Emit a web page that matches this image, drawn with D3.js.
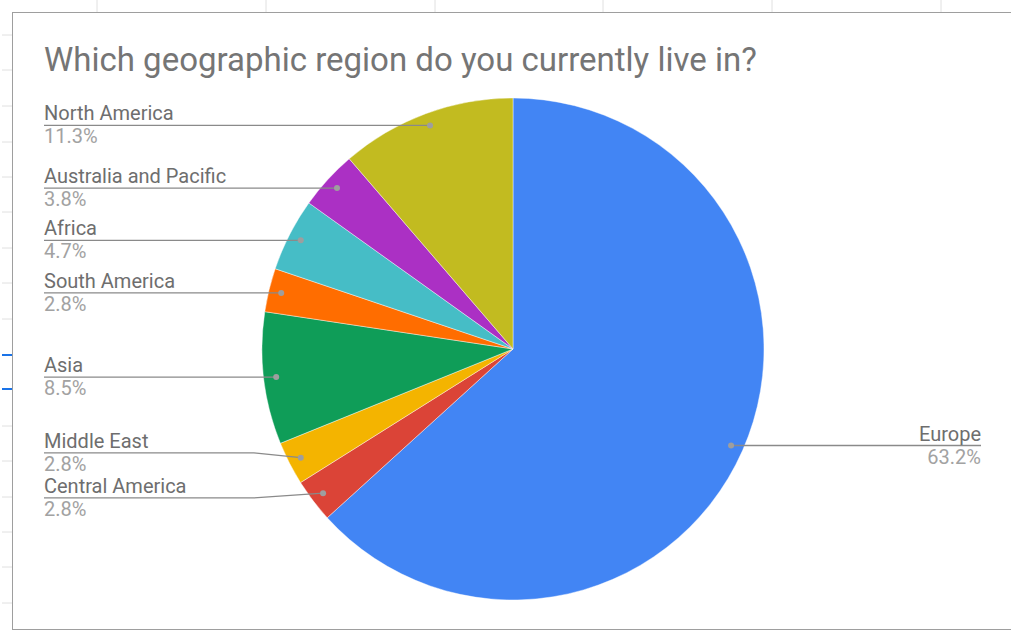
<!DOCTYPE html>
<html>
<head>
<meta charset="utf-8">
<script src="https://cdn.jsdelivr.net/npm/d3@7"></script>
<style>
  html, body { margin: 0; padding: 0; background: #fff; }
  svg { display: block; font-family: Roboto, "Noto Sans", Arial, sans-serif; }
</style>
</head>
<body>
<svg id="chart" width="1011" height="631"></svg>
<script>
// Survey answers: share of respondents per region (percent), clockwise from 12 o'clock
const regions = ["Europe", "Central America", "Middle East", "Asia", "South America", "Africa", "Australia and Pacific", "North America"];
const shares = [63.2, 2.8, 2.8, 8.5, 2.8, 4.7, 3.8, 11.3];
const sliceColors = ["#4285f4", "#db4437", "#f4b400", "#0f9d58", "#ff6d00", "#46bdc6", "#ab30c4", "#c2bb20"];
const chartTitle = "Which geographic region do you currently live in?";

// Spreadsheet cell guides that peek out around the chart frame
const columnEdges = [97, 266, 435, 603, 772, 941];
const rowEdges = [35, 70, 106, 142, 177, 212, 248, 283, 319, 426, 461, 497, 532, 567, 603];
const selectedRowEdges = [355, 389];

const W = 1011, H = 631;
const svg = d3.select("#chart");

// --- sheet background ---
const sheet = svg.append("g");
sheet.selectAll("line.col").data(columnEdges).join("line")
  .attr("x1", d => d).attr("x2", d => d).attr("y1", 0).attr("y2", 12)
  .attr("stroke", "#e0e0e0").attr("stroke-width", 1);
sheet.selectAll("line.row").data(rowEdges).join("line")
  .attr("x1", 2).attr("x2", 12).attr("y1", d => d).attr("y2", d => d)
  .attr("stroke", "#e0e0e0").attr("stroke-width", 1);
sheet.selectAll("line.sel").data(selectedRowEdges).join("line")
  .attr("x1", 2).attr("x2", 12).attr("y1", d => d).attr("y2", d => d)
  .attr("stroke", "#1a73e8").attr("stroke-width", 2);

// --- chart frame ---
const frame = { left: 12.5, top: 12.5, bottom: 629.5 };
svg.append("rect")
  .attr("x", frame.left).attr("y", frame.top)
  .attr("width", W + 20).attr("height", frame.bottom - frame.top)
  .attr("fill", "#fff").attr("stroke", "#9e9e9e").attr("stroke-width", 1);

// --- title ---
svg.append("text")
  .attr("x", 44).attr("y", 71)
  .attr("font-size", 33).attr("fill", "#757575")
  .text(chartTitle);

// --- pie ---
const cx = 513, cy = 349, R = 251;
const data = regions.map((name, i) => ({ name, value: shares[i], color: sliceColors[i] }));
const pie = d3.pie().sort(null).value(d => d.value);
const arcs = pie(data);
const arc = d3.arc().innerRadius(0).outerRadius(R);
const dotArc = d3.arc().innerRadius(R * 0.95).outerRadius(R * 0.95);

const g = svg.append("g").attr("transform", `translate(${cx},${cy})`);
g.selectAll("path.slice").data(arcs).join("path")
  .attr("class", "slice")
  .attr("d", arc)
  .attr("fill", d => d.data.color)
  .attr("stroke", "#ffffff").attr("stroke-width", 0.6).attr("stroke-opacity", 0.7);

// --- labels with leader lines ---
const fmt = d3.format(".1f");
const labels = arcs.map(a => {
  const [dx, dy] = dotArc.centroid(a);
  const mid = (a.startAngle + a.endAngle) / 2;
  return { a, dotX: cx + dx, dotY: cy + dy, left: mid > Math.PI, y: cy + dy };
});

// push overlapping labels apart on each side
const minGap = 45;
[true, false].forEach(side => {
  const col = labels.filter(l => l.left === side).sort((p, q) => p.dotY - q.dotY);
  for (let it = 0; it < 50; it++) {
    let moved = false;
    for (let i = 1; i < col.length; i++) {
      const gap = col[i].y - col[i - 1].y;
      if (gap < minGap) {
        const shift = (minGap - gap) / 2;
        col[i - 1].y -= shift;
        col[i].y += shift;
        moved = true;
      }
    }
    if (!moved) break;
  }
});

const leftX = 44, rightX = 981;
const bendLeft = cx - R - 8, bendRight = cx + R + 8;

const lab = svg.append("g");
labels.forEach(l => {
  const tx = l.left ? leftX : rightX;
  const anchor = l.left ? "start" : "end";
  let pts;
  if (Math.abs(l.y - l.dotY) > 1) {
    const bx = l.left ? Math.min(bendLeft, l.dotX - 30) : Math.max(bendRight, l.dotX + 30);
    pts = [[tx, l.y], [bx, l.y], [l.dotX, l.dotY]];
  } else {
    pts = [[tx, l.dotY], [l.dotX, l.dotY]];
    l.y = l.dotY;
  }
  lab.append("path")
    .attr("d", d3.line()(pts))
    .attr("fill", "none").attr("stroke", "#8a8a8a").attr("stroke-width", 1.3);
  lab.append("circle")
    .attr("cx", l.dotX).attr("cy", l.dotY).attr("r", 3)
    .attr("fill", "#9e9e9e");
  lab.append("text")
    .attr("x", tx).attr("y", l.y - 5)
    .attr("text-anchor", anchor).attr("font-size", 20).attr("fill", "#6e6e6e")
    .text(l.a.data.name);
  lab.append("text")
    .attr("x", tx).attr("y", l.y + 18)
    .attr("text-anchor", anchor).attr("font-size", 20).attr("fill", "#a2a2a2")
    .text(fmt(l.a.data.value) + "%");
});
</script>
</body>
</html>
